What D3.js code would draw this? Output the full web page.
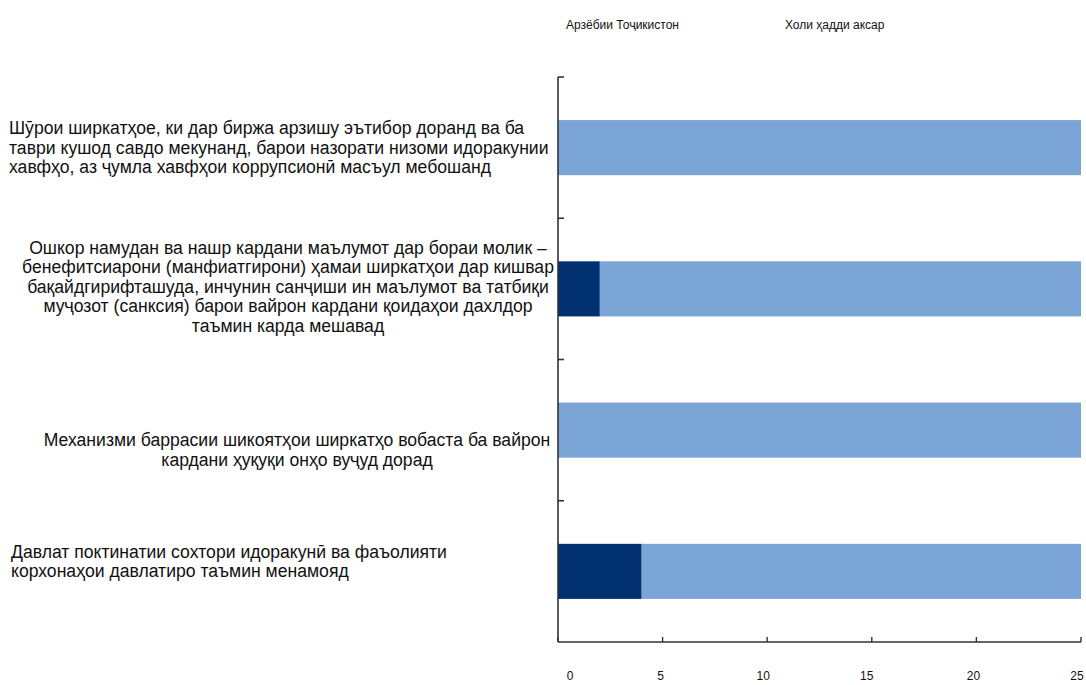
<!DOCTYPE html>
<html><head><meta charset="utf-8">
<script src="https://cdn.jsdelivr.net/npm/d3@7"></script>
<style>body{margin:0;background:#fff}svg{display:block}text{font-family:"Liberation Sans",Arial,sans-serif;fill:#111}</style>
</head><body>
<svg id="c" width="1086" height="685"></svg>
<script>
const categories = [
  "Шӯрои ширкатҳое, ки дар биржа арзишу эътибор доранд ва ба|таври кушод савдо мекунанд, барои назорати низоми идоракунии|хавфҳо, аз ҷумла хавфҳои коррупсионӣ масъул мебошанд",
  "Ошкор намудан ва нашр кардани маълумот дар бораи молик –|бенефитсиарони (манфиатгирони) ҳамаи ширкатҳои дар кишвар|бақайдгирифташуда, инчунин санҷиши ин маълумот ва татбиқи|муҷозот (санксия) барои вайрон кардани қоидаҳои дахлдор|таъмин карда мешавад",
  "Механизми баррасии шикоятҳои ширкатҳо вобаста ба вайрон|кардани ҳуқуқи онҳо вуҷуд дорад",
  "Давлат поктинатии сохтори идоракунӣ ва фаъолияти|корхонаҳои давлатиро таъмин менамояд"
];
const seriesNames = ["Арзёбии Тоҷикистон", "Холи ҳадди аксар"];
const tajikistan = [0, 2, 0, 4];
const gapToMax = [25, 23, 25, 21];
const xTicks = [0, 5, 10, 15, 20, 25];

const colors = ["#00306f", "#7ba5d6"];
// label layout (alignment, anchor x, vertical shift)
const labelLayout = [
  {anchor:"start", x:9, dy:0},
  {anchor:"middle", x:288, dy:-2},
  {anchor:"middle", x:297, dy:20},
  {anchor:"start", x:11, dy:-10}
];

const svg = d3.select("#c");
const x = d3.scaleLinear().domain([0, 25]).range([558, 1081]);
const y = d3.scaleBand().domain(d3.range(categories.length)).range([77, 642]).paddingInner(0.61).paddingOuter(0.305);

const rows = categories.map((c, i) => ({i, a: tajikistan[i], b: gapToMax[i]}));
const stack = d3.stack().keys(["a", "b"])(rows);

svg.append("g").selectAll("g").data(stack).join("g")
  .attr("fill", (d, k) => colors[k])
  .selectAll("rect").data(d => d).join("rect")
  .attr("x", d => x(d[0]))
  .attr("width", d => x(d[1]) - x(d[0]))
  .attr("y", d => y(d.data.i))
  .attr("height", y.bandwidth());

// y axis
const yAxisG = svg.append("g");
yAxisG.append("line").attr("x1", 558).attr("x2", 558).attr("y1", 77).attr("y2", 642)
  .attr("stroke", "#333").attr("stroke-width", 1.6);
const bounds = d3.range(categories.length).map(i => y(i) - y.step() * y.paddingInner() / 2);
yAxisG.selectAll("line.t").data(bounds).join("line").attr("class", "t")
  .attr("x1", 558).attr("x2", 564).attr("y1", d => d).attr("y2", d => d)
  .attr("stroke", "#333").attr("stroke-width", 1.6);

// x axis
const xAxisG = svg.append("g").attr("transform", "translate(0,642)");
xAxisG.append("line").attr("x1", 558).attr("x2", 1081).attr("stroke", "#333").attr("stroke-width", 1.6);
xAxisG.selectAll("line.t").data(xTicks).join("line").attr("class", "t")
  .attr("x1", d => x(d)).attr("x2", d => x(d)).attr("y1", 0).attr("y2", -5)
  .attr("stroke", "#333").attr("stroke-width", 1.4);
const labelShift = [12, -2, -4, -5, -3, -4];
xAxisG.selectAll("text").data(xTicks).join("text")
  .attr("x", (d, i) => x(d) + labelShift[i]).attr("y", 38)
  .attr("text-anchor", "middle").attr("font-size", 12).text(d => d);

// category labels
const lh = 19.5;
categories.forEach((c, i) => {
  const lines = c.split("|");
  const L = labelLayout[i];
  const cy = y(i) + y.bandwidth() / 2 + L.dy;
  const t = svg.append("text").attr("font-size", 17.6).attr("text-anchor", L.anchor);
  lines.forEach((ln, j) => {
    t.append("tspan").attr("x", L.x)
      .attr("y", cy + (j - (lines.length - 1) / 2) * lh + 6).text(ln);
  });
});

// legend (text only)
const legX = [566, 785];
svg.append("g").selectAll("text").data(seriesNames).join("text")
  .attr("x", (d, i) => legX[i]).attr("y", 29).attr("font-size", 12).text(d => d);
</script>
</body></html>
